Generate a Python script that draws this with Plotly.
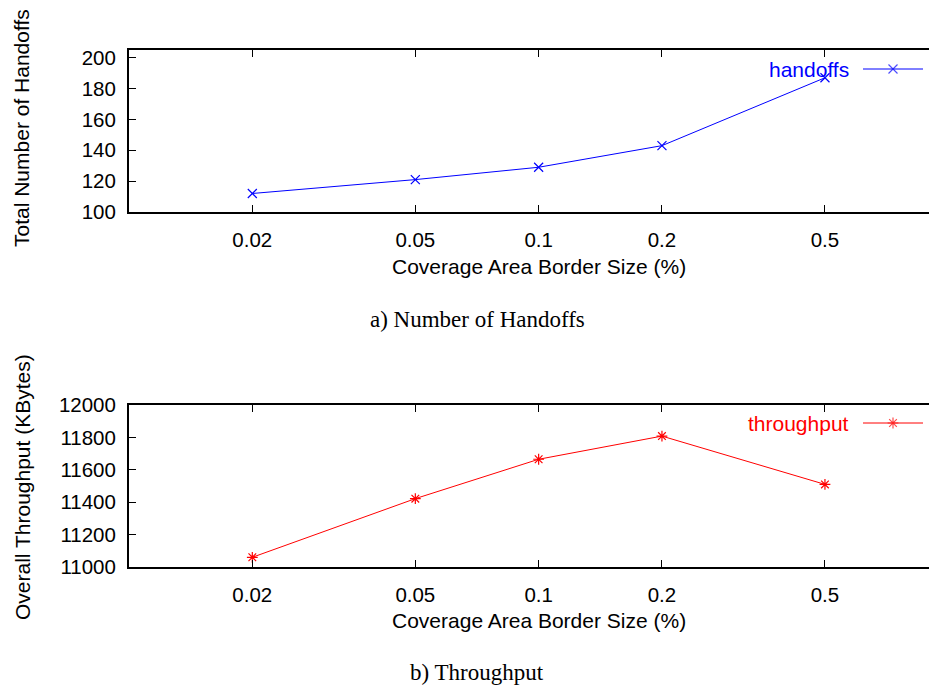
import plotly.graph_objects as go

border_sizes = [0.02, 0.05, 0.1, 0.2, 0.5]
tick_labels = ["0.02", "0.05", "0.1", "0.2", "0.5"]
handoffs = [112, 121, 129, 143, 187]
throughput = [11060, 11422, 11665, 11808, 11510]

W, H = 937, 687
OFF = 8          # page body margin in the browser
L = 129 - OFF    # left margin inside the figure
PW = W - L

def py(p):
    # screen y pixel -> paper fraction
    return 1 - (p - OFF) / H

def px(p):
    # screen x pixel -> paper fraction
    return (p - OFF - L) / PW

BLUE = "rgb(0,0,255)"
RED = "rgb(255,0,0)"
FONT = "Liberation Sans, Arial, sans-serif"
SERIF = "Liberation Serif, Times New Roman, serif"
FS = 21
FT = 20.5

fig = go.Figure()

fig.add_trace(go.Scatter(x=border_sizes, y=handoffs, mode="lines+markers",
                         line=dict(color=BLUE, width=1),
                         marker=dict(symbol="x-thin-open", size=9, line=dict(color=BLUE, width=1.2)),
                         xaxis="x", yaxis="y", showlegend=False))
fig.add_trace(go.Scatter(x=border_sizes, y=throughput, mode="lines+markers",
                         line=dict(color=RED, width=1),
                         marker=dict(symbol="asterisk-open", size=9, line=dict(color=RED, width=1.2)),
                         xaxis="x2", yaxis="y2", showlegend=False))

# legend keys on an invisible axis pair spanning the paper
for color, sym, yk in [(BLUE, "x-thin-open", 69), (RED, "asterisk-open", 423)]:
    fig.add_trace(go.Scatter(x=[px(863), px(893), px(923)], y=[py(yk)] * 3,
                             mode="lines+markers",
                             line=dict(color=color, width=1),
                             marker=dict(symbol=sym, size=[0, 9, 0], line=dict(color=color, width=1.2)),
                             xaxis="x3", yaxis="y3", showlegend=False, hoverinfo="skip"))

xcommon = dict(type="log", range=[-2.0, -0.008], tickvals=border_sizes, ticktext=tick_labels,
               ticks="inside", ticklen=7, tickwidth=1, tickcolor="black",
               showline=True, linecolor="black", linewidth=2, mirror="ticks",
               showgrid=False, zeroline=False, automargin=False,
               tickfont=dict(family=FONT, size=FT, color="black"),
               ticklabelstandoff=8, domain=[0, 1])
ycommon = dict(ticks="inside", ticklen=7, tickwidth=1, tickcolor="black",
               showline=True, linecolor="black", linewidth=2,
               showgrid=False, zeroline=False, automargin=False, tickformat="d",
               tickfont=dict(family=FONT, size=FT, color="black"),
               ticklabelstandoff=7)

fig.update_layout(
    width=W, height=H,
    margin=dict(l=L, r=0, t=0, b=0, pad=0, autoexpand=False),
    paper_bgcolor="white", plot_bgcolor="rgba(0,0,0,0)",
    xaxis=dict(**xcommon, anchor="y"),
    yaxis=dict(**ycommon, range=[100, 205], tickvals=[100, 120, 140, 160, 180, 200],
               domain=[py(212), py(50)], anchor="x"),
    xaxis2=dict(**xcommon, anchor="y2"),
    yaxis2=dict(**ycommon, range=[11000, 12000],
                tickvals=[11000, 11200, 11400, 11600, 11800, 12000],
                domain=[py(567), py(405)], anchor="x2"),
    xaxis3=dict(range=[0, 1], domain=[0, 1], visible=False, anchor="y3", automargin=False),
    yaxis3=dict(range=[0, 1], domain=[0, 1], visible=False, anchor="x3", automargin=False),
)

ann = []
def add(text, x, y, font, **kw):
    ann.append(dict(text=text, x=px(x), y=py(y), xref="paper", yref="paper",
                    showarrow=False, yanchor="middle", font=font, **kw))

f_black = dict(family=FONT, size=FS, color="black")
add("Coverage Area Border Size (%)", 539, 266, f_black, xanchor="center")
add("Coverage Area Border Size (%)", 539, 620, f_black, xanchor="center")
add("Total Number of Handoffs", 22, 128, f_black, xanchor="center", textangle=-90)
add("Overall Throughput (KBytes)", 22, 487, f_black, xanchor="center", textangle=-90)
add("a) Number of Handoffs", 477, 319, dict(family=SERIF, size=23, color="black"), xanchor="center")
add("b) Throughput", 477, 672, dict(family=SERIF, size=23, color="black"), xanchor="center")
add("handoffs", 851, 69, dict(family=FONT, size=FS, color=BLUE), xanchor="right")
add("throughput", 851, 423, dict(family=FONT, size=FS, color=RED), xanchor="right")
fig.update_layout(annotations=ann)

fig.write_html("out.html")
